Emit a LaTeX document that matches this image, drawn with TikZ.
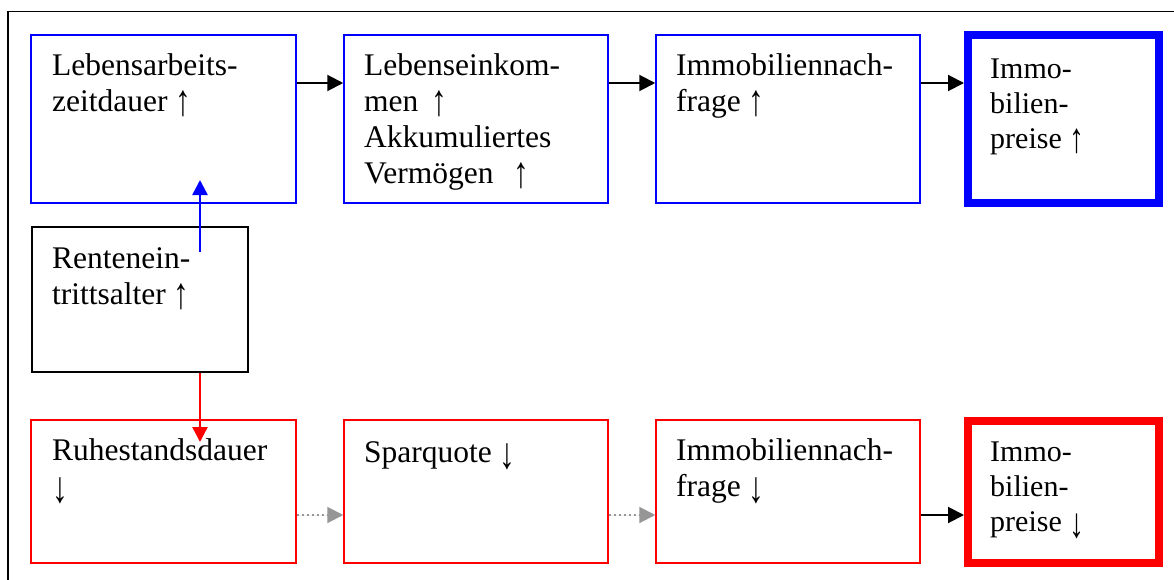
\documentclass[tikz,border=0pt]{standalone}
\usepackage{graphicx}
\usepackage{fontspec}
\setmainfont{Liberation Serif}
\usetikzlibrary{arrows.meta}
\definecolor{pblue}{RGB}{0,0,255}
\definecolor{pred}{RGB}{255,0,0}
\definecolor{dgray}{RGB}{150,150,150}
\newcommand{\myup}{\raisebox{-4pt}{\scalebox{1}[1.4]{↑}}}
\newcommand{\mydown}{\raisebox{-6pt}{\scalebox{1}[1.4]{↓}}}
\begin{document}
\begin{tikzpicture}[x=1pt,y=-1pt,
  box/.style={draw, rectangle, inner sep=0pt, line width=1.5pt},
  bluebox/.style={box, draw=pblue},
  redbox/.style={box, draw=pred},
  blackbox/.style={box, draw=black},
  thickblue/.style={box, draw=pblue, line width=8pt},
  thickred/.style={box, draw=pred, line width=8pt},
  txt/.style={anchor=base west, inner sep=0pt, font=\fontsize{31.5}{36}\selectfont},
  smalltxt/.style={anchor=base west, inner sep=0pt, font=\fontsize{30}{35}\selectfont},
  tip/.style={-{Triangle[length=16pt,width=16pt]}},
  blkarr/.style={tip, draw=black, line width=2pt},
  grayarr/.style={-{Triangle[length=16pt,width=16pt]}, draw=dgray, fill=dgray, line width=2pt, dash pattern=on 2pt off 3pt},
  bluearr/.style={-{Triangle[length=15pt,width=15pt]}, draw=pblue, line width=2.5pt},
  redarr/.style={-{Triangle[length=15pt,width=15pt]}, draw=pred, line width=2.5pt},
]
\useasboundingbox (0,0) rectangle (1174,580);
\fill[white] (0,0) rectangle (1174,580);
% outer frame (clipped at right and bottom)
\draw[line width=1.5pt] (1174,11.5) -- (8,11.5) -- (8,580);

% top row
\node[bluebox, minimum width=265pt, minimum height=168pt] (b1) at (163.5,119) {};
\node[bluebox, minimum width=264pt, minimum height=168pt] (b2) at (476,119) {};
\node[bluebox, minimum width=264pt, minimum height=168pt] (b3) at (788,119) {};
\node[thickblue, minimum width=191pt, minimum height=167.5pt] (b4) at (1063.5,119.25) {};

% middle
\node[blackbox, minimum width=216pt, minimum height=145pt] (ren) at (140,299.5) {};

% bottom row
\node[redbox, minimum width=265pt, minimum height=143pt] (r1) at (163.5,491.5) {};
\node[redbox, minimum width=264pt, minimum height=143pt] (r2) at (476,491.5) {};
\node[redbox, minimum width=264pt, minimum height=143pt] (r3) at (788,491.5) {};
\node[thickred, minimum width=191pt, minimum height=142pt] (r4) at (1063.5,492) {};

% texts
\node[txt] (t1) at (52,76) {\vtop{\hbox{Lebensarbeits-}\hbox{zeitdauer \myup}}};
\node[txt] (t2) at (364,76) {\vtop{\hbox{Lebenseinkom-}\hbox{men\hspace{13pt}\myup}\hbox{Akkumuliertes}\hbox{Vermögen\hspace{20pt}\myup}}};
\node[txt] (t3) at (676,76) {\vtop{\hbox{Immobiliennach-}\hbox{frage \myup}}};
\node[smalltxt] (t4) at (990,79) {\vtop{\hbox{Immo-}\hbox{bilien-}\hbox{preise \myup}}};
\node[txt] (t5) at (52,268) {\vtop{\hbox{Rentenein-}\hbox{trittsalter \myup}}};
\node[txt] (t6) at (52,460) {\vtop{\hbox{Ruhestandsdauer}\hbox{\mydown}}};
\node[txt] (t7) at (364,462) {Sparquote \mydown};
\node[txt] (t8) at (676,460) {\vtop{\hbox{Immobiliennach-}\hbox{frage \mydown}}};
\node[smalltxt] (t9) at (990,461) {\vtop{\hbox{Immo-}\hbox{bilien-}\hbox{preise \mydown}}};

% connectors
\coordinate (ya) at (0,83);
\coordinate (yb) at (0,515);
\draw[blkarr] (b1.east |- ya) -- (b2.west |- ya);
\draw[blkarr] (b2.east |- ya) -- (b3.west |- ya);
\draw[blkarr] (b3.east |- ya) -- (b4.west |- ya);
\draw[grayarr] (r1.east |- yb) -- (r2.west |- yb);
\draw[grayarr] (r2.east |- yb) -- (r3.west |- yb);
\draw[blkarr] (r3.east |- yb) -- (r4.west |- yb);

\coordinate (bs) at (200,252);
\coordinate (be) at (200,180);
\coordinate (re) at (200,442);
\draw[bluearr] (bs) -- (be);
\draw[redarr] (ren.south -| bs) -- (re);
\end{tikzpicture}
\end{document}
